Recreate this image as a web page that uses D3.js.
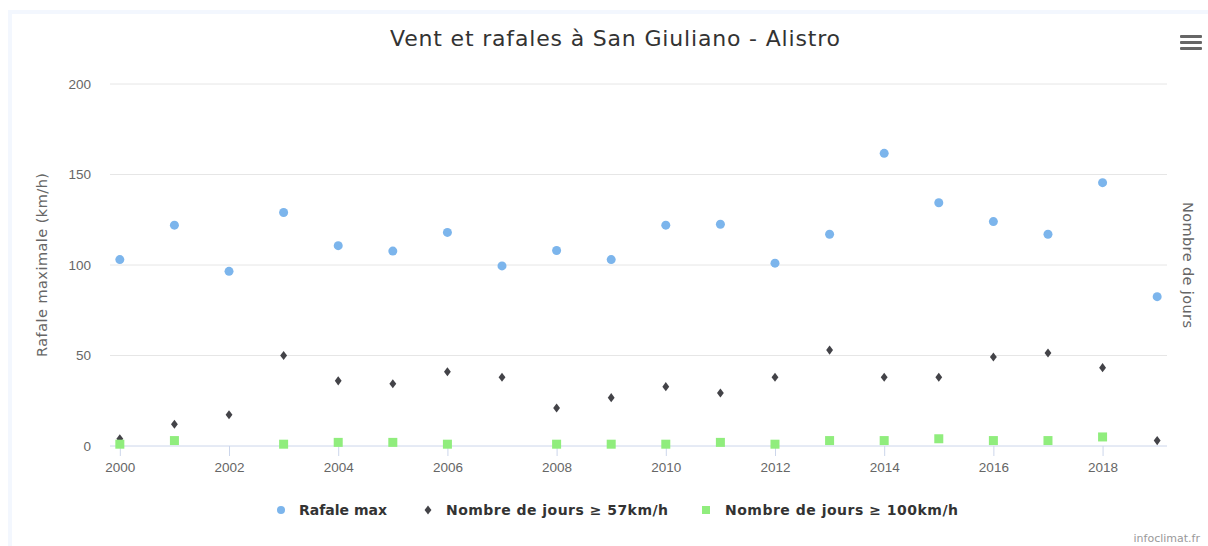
<!DOCTYPE html>
<html>
<head>
<meta charset="utf-8">
<script src="https://cdn.jsdelivr.net/npm/d3@7"></script>
<style>
  body { margin: 0; background: #fff; }
  svg { display: block; font-family: "DejaVu Sans", Verdana, sans-serif; }
</style>
</head>
<body>
<svg id="chart" width="1208" height="546"></svg>
<script>
// data
const years = [2000, 2001, 2002, 2003, 2004, 2005, 2006, 2007, 2008, 2009,
  2010, 2011, 2012, 2013, 2014, 2015, 2016, 2017, 2018, 2019]
const rafaleMax = [103, 122, 96.5, 129, 110.7, 107.7, 118, 99.5, 108, 103,
  122, 122.5, 101, 117, 161.7, 134.4, 124, 117, 145.5, 82.5]
const jours57 = [4, 12, 17.3, 50, 36, 34.4, 41, 38, 21, 26.7,
  32.8, 29.3, 38, 53, 38, 38, 49.2, 51.4, 43.3, 3]
const jours100 = [1, 3, null, 1, 2, 2, 1, null, 1, 1,
  1, 2, 1, 3, 3, 4, 3, 3, 5, null]
const yTicks = [0, 50, 100, 150, 200]
const xTicks = [2000, 2002, 2004, 2006, 2008, 2010, 2012, 2014, 2016, 2018]

const svg = d3.select('#chart')
const plot = { left: 110, right: 1167, top: 84, bottom: 446 }

// light page frame
svg.append('path')
  .attr('d', 'M10,546 V12 H1208')
  .attr('fill', 'none')
  .attr('stroke', '#f3f7fe')
  .attr('stroke-width', 4)

const x = d3.scaleLinear()
  .domain([1999.82, 2019.18])
  .range([plot.left, plot.right])
const y = d3.scaleLinear()
  .domain([0, 200])
  .range([plot.bottom, plot.top])
// right axis (no labels shown), same pixel scale
const y2 = y.copy()

// grid
svg.append('g')
  .selectAll('line')
  .data(yTicks.filter(d => d > 0))
  .enter()
  .append('line')
  .attr('x1', plot.left)
  .attr('x2', plot.right)
  .attr('y1', d => y(d))
  .attr('y2', d => y(d))
  .attr('stroke', '#e6e6e6')

// left axis labels
const yAxis = d3.axisLeft(y).tickValues(yTicks).tickSize(0).tickPadding(19)
const gy = svg.append('g')
  .attr('transform', 'translate(' + plot.left + ',0)')
  .call(yAxis)
gy.select('.domain').remove()
gy.selectAll('text')
  .attr('fill', '#666')
  .style('font-size', '13.5px')

// x axis
const xAxis = d3.axisBottom(x).tickValues(xTicks).tickFormat(d3.format('d')).tickSize(10).tickPadding(6)
const gx = svg.append('g')
  .attr('transform', 'translate(0,' + plot.bottom + ')')
  .call(xAxis)
gx.select('.domain')
  .attr('d', 'M' + plot.left + ',0H' + plot.right)
  .attr('stroke', '#ccd6eb')
gx.selectAll('.tick line').attr('stroke', '#ccd6eb')
gx.selectAll('text')
  .attr('fill', '#666')
  .style('font-size', '13.5px')

// axis titles
svg.append('text')
  .attr('transform', 'translate(47,265) rotate(-90)')
  .attr('text-anchor', 'middle')
  .attr('fill', '#666')
  .style('font-size', '14.5px')
  .attr('textLength', 184)
  .text('Rafale maximale (km/h)')

svg.append('text')
  .attr('transform', 'translate(1183,265) rotate(90)')
  .attr('text-anchor', 'middle')
  .attr('fill', '#666')
  .style('font-size', '14.5px')
  .attr('textLength', 126)
  .text('Nombre de jours')

// title
svg.append('text')
  .attr('x', 615)
  .attr('y', 46)
  .attr('text-anchor', 'middle')
  .attr('fill', '#333')
  .style('font-size', '22px')
  .attr('textLength', 450)
  .text('Vent et rafales à San Giuliano - Alistro')

// menu icon
svg.append('g')
  .selectAll('rect')
  .data([0, 1, 2])
  .enter()
  .append('rect')
  .attr('x', 1180)
  .attr('y', d => 35 + d * 6)
  .attr('width', 22)
  .attr('height', 3)
  .attr('rx', 1)
  .attr('fill', '#666')

// series
const diamond = d3.symbol().type(d3.symbolDiamond).size(24)
const diamondShape = ' scale(1.3,1.0)'

svg.append('g')
  .selectAll('circle')
  .data(years.map((d, i) => [d, rafaleMax[i]]))
  .enter()
  .append('circle')
  .attr('cx', d => x(d[0]))
  .attr('cy', d => y(d[1]))
  .attr('r', 4.5)
  .attr('fill', '#7cb5ec')

svg.append('g')
  .selectAll('path')
  .data(years.map((d, i) => [d, jours57[i]]))
  .enter()
  .append('path')
  .attr('d', diamond)
  .attr('transform', d => 'translate(' + x(d[0]) + ',' + y2(d[1]) + ')' + diamondShape)
  .attr('fill', '#434348')

svg.append('g')
  .selectAll('rect')
  .data(years.map((d, i) => [d, jours100[i]]).filter(d => d[1] != null))
  .enter()
  .append('rect')
  .attr('x', d => x(d[0]) - 4.5)
  .attr('y', d => y2(d[1]) - 4.5)
  .attr('width', 9)
  .attr('height', 9)
  .attr('fill', '#90ed7d')

// legend
const legend = svg.append('g')
  .style('font-size', '14px')
  .style('font-weight', 'bold')
  .attr('fill', '#333')

legend.append('circle').attr('cx', 281).attr('cy', 510).attr('r', 4).attr('fill', '#7cb5ec')
legend.append('text').attr('x', 299).attr('y', 515).text('Rafale max')

legend.append('path').attr('d', diamond)
  .attr('transform', 'translate(428,510)' + diamondShape)
  .attr('fill', '#434348')
legend.append('text').attr('x', 446).attr('y', 515)
  .attr('textLength', 222)
  .text('Nombre de jours ≥ 57km/h')

legend.append('rect').attr('x', 702).attr('y', 506).attr('width', 8).attr('height', 8).attr('fill', '#90ed7d')
legend.append('text').attr('x', 725).attr('y', 515)
  .attr('textLength', 233)
  .text('Nombre de jours ≥ 100km/h')

// credit
svg.append('text')
  .attr('x', 1200)
  .attr('y', 542)
  .attr('text-anchor', 'end')
  .attr('fill', '#999')
  .style('font-size', '11px')
  .text('infoclimat.fr')
</script>
</body>
</html>
